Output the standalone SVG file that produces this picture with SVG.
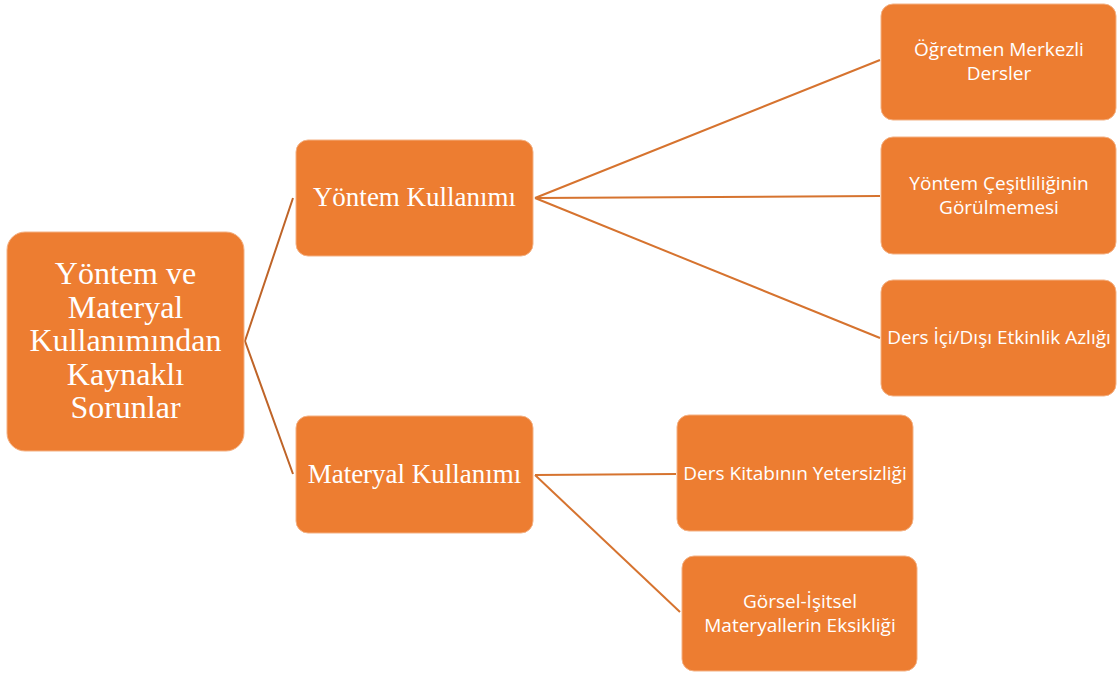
<svg xmlns="http://www.w3.org/2000/svg" width="1117" height="675" viewBox="0 0 1117 675">
<style>
.box{fill:#ED7D31;stroke:#F4B183;stroke-width:1}
.serif{font-family:"Liberation Serif","DejaVu Serif",serif;fill:#fff;text-anchor:middle}
.sans{font-family:"Open Sans","Liberation Sans",sans-serif;fill:#fff;text-anchor:middle;font-size:19px}
.c1{stroke:#BF6428;stroke-width:2;fill:none}
.c2{stroke:#D6732F;stroke-width:2;fill:none}
</style>
<rect width="1117" height="675" fill="#fff"/>
<g id="connectors">
<polyline class="c1" points="293,198 245,341 293,474"/>
<line class="c2" x1="535" y1="198" x2="880" y2="60"/>
<line class="c2" x1="535" y1="198" x2="880" y2="196"/>
<line class="c2" x1="535" y1="198" x2="880" y2="338"/>
<line class="c2" x1="535" y1="475" x2="676" y2="474"/>
<line class="c2" x1="535" y1="475" x2="680" y2="612"/>
</g>
<g id="root">
<rect class="box" x="7" y="232" width="237" height="219" rx="18"/>
<text class="serif" font-size="32"><tspan x="125.5" y="284">Yöntem ve</tspan><tspan x="125.5" y="318">Materyal</tspan><tspan x="125.5" y="351">Kullanımından</tspan><tspan x="125.5" y="385">Kaynaklı</tspan><tspan x="125.5" y="418">Sorunlar</tspan></text>
</g>
<g id="yontem">
<rect class="box" x="296" y="140" width="237" height="116" rx="12"/>
<text class="serif" font-size="27" x="414.5" y="206">Yöntem Kullanımı</text>
</g>
<g id="materyal">
<rect class="box" x="296" y="416" width="237" height="117" rx="12"/>
<text class="serif" font-size="27" x="414.5" y="483">Materyal Kullanımı</text>
</g>
<g id="ogretmen">
<rect class="box" x="881" y="4" width="235" height="116" rx="12"/>
<text class="sans"><tspan x="999" y="56">Öğretmen Merkezli</tspan><tspan x="999" y="80">Dersler</tspan></text>
</g>
<g id="cesitlilik">
<rect class="box" x="881" y="137" width="235" height="117" rx="12"/>
<text class="sans"><tspan x="999" y="190">Yöntem Çeşitliliğinin</tspan><tspan x="999" y="214">Görülmemesi</tspan></text>
</g>
<g id="etkinlik">
<rect class="box" x="881" y="280" width="235" height="116" rx="12"/>
<text class="sans" x="999" y="344">Ders İçi/Dışı Etkinlik Azlığı</text>
</g>
<g id="kitap">
<rect class="box" x="677" y="415" width="236" height="116" rx="12"/>
<text class="sans" x="795" y="480">Ders Kitabının Yetersizliği</text>
</g>
<g id="gorsel">
<rect class="box" x="682" y="556" width="235" height="115" rx="12"/>
<text class="sans"><tspan x="800" y="608">Görsel-İşitsel</tspan><tspan x="800" y="632">Materyallerin Eksikliği</tspan></text>
</g>
</svg>
